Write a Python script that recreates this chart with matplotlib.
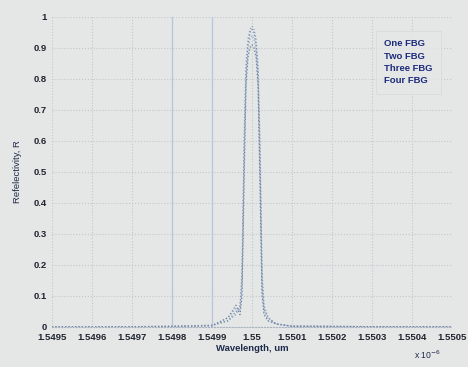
import matplotlib
matplotlib.use('Agg')
import matplotlib.pyplot as plt
import numpy as np

plt.rcParams['font.family'] = ['Liberation Sans', 'DejaVu Sans']

# wavelength (x 1e-6 m) and reflectivity
wavelength = [1.5495, 1.5497, 1.5498, 1.5499, 1.54994, 1.54996, 1.54997,
              1.549975, 1.54998, 1.549985, 1.54999, 1.549995, 1.55,
              1.550005, 1.55001, 1.550015, 1.55002, 1.550025, 1.55003,
              1.55004, 1.55006, 1.5501, 1.5503, 1.5505]
one_fbg = [0, 0.001, 0.002, 0.006, 0.02, 0.04, 0.07, 0.18, 0.6, 0.85,
           0.93, 0.96, 0.97, 0.96, 0.93, 0.85, 0.6, 0.18, 0.07, 0.03,
           0.01, 0.003, 0.001, 0]
two_fbg = [0, 0.001, 0.002, 0.005, 0.02, 0.05, 0.06, 0.15, 0.55, 0.82,
           0.91, 0.95, 0.96, 0.95, 0.91, 0.82, 0.55, 0.15, 0.06, 0.03,
           0.01, 0.003, 0.001, 0]
three_fbg = [0, 0.001, 0.002, 0.005, 0.03, 0.06, 0.05, 0.12, 0.5, 0.8,
             0.89, 0.93, 0.94, 0.93, 0.89, 0.8, 0.5, 0.12, 0.05, 0.02,
             0.01, 0.002, 0.001, 0]
four_fbg = [0, 0.001, 0.002, 0.004, 0.03, 0.07, 0.04, 0.1, 0.45, 0.78,
            0.87, 0.9, 0.91, 0.9, 0.87, 0.78, 0.45, 0.1, 0.04, 0.02,
            0.01, 0.002, 0.001, 0]
labels = ['One FBG', 'Two FBG', 'Three FBG', 'Four FBG']
xticks = [1.5495, 1.5496, 1.5497, 1.5498, 1.5499, 1.55, 1.5501, 1.5502,
          1.5503, 1.5504, 1.5505]
xticklabels = ['1.5495', '1.5496', '1.5497', '1.5498', '1.5499', '1.55',
               '1.5501', '1.5502', '1.5503', '1.5504', '1.5505']
yticks = np.arange(0, 1.01, 0.1)
yticklabels = ['0', '0.1', '0.2', '0.3', '0.4', '0.5', '0.6', '0.7', '0.8',
               '0.9', '1']

bg = '#e5e7e7'
fig = plt.figure(figsize=(4.68, 3.67), dpi=100, facecolor=bg)
ax = fig.add_axes([0.111, 0.109, 0.855, 0.845], facecolor=bg)

colors = ['#8fa3c2', '#7a8daa', '#9db1cf', '#6e819e']
series = [one_fbg, two_fbg, three_fbg, four_fbg]
for s, c, lab in zip(series, colors, labels):
    ax.plot(wavelength, s, color=c, lw=0.9, ls=':', label=lab)

ax.set_xlim(1.5495, 1.5505)
ax.set_ylim(0, 1)
ax.set_xticks(xticks)
ax.set_xticklabels(xticklabels)
ax.set_yticks(yticks)
ax.set_yticklabels(yticklabels)
ax.tick_params(length=0, labelsize=6.8, labelcolor='#20242e', pad=4)
for t in ax.get_xticklabels() + ax.get_yticklabels():
    t.set_fontweight('bold')

ax.grid(True, color='#c2c7cc', ls=':', lw=0.8)
for i, g in enumerate(ax.get_xgridlines()):
    if i in (3, 4):
        g.set_color('#a9bddb')
        g.set_linestyle('-')
        g.set_linewidth(0.9)
        g.set_alpha(0.8)

for side in ['top', 'right', 'left']:
    ax.spines[side].set_visible(False)
ax.spines['bottom'].set_color('#a8b2be')
ax.spines['bottom'].set_linestyle(':')

ax.set_xlabel('Wavelength, um', fontsize=6.8, fontweight='bold',
              color='#1e2a4a', labelpad=2)
ax.set_ylabel('Refelectivity, R', fontsize=6.8, color='#1e2a4a', labelpad=8)
fig.text(0.885, 0.022, r'x 10$^{-6}$', fontsize=6.2, color='#1e2a4a')

leg = ax.legend(loc='upper right', bbox_to_anchor=(0.985, 0.97),
                handlelength=0, handletextpad=0, fontsize=6.8,
                frameon=True, fancybox=False, labelspacing=0.35,
                borderpad=0.9)
leg.get_frame().set_facecolor(bg)
leg.get_frame().set_edgecolor('#d5d9dc')
leg.get_frame().set_linewidth(0.6)
for t in leg.get_texts():
    t.set_color('#1c2a7a')
    t.set_fontweight('bold')
for h in leg.legend_handles:
    h.set_visible(False)

fig.savefig('out.png', dpi=100, facecolor=bg)
